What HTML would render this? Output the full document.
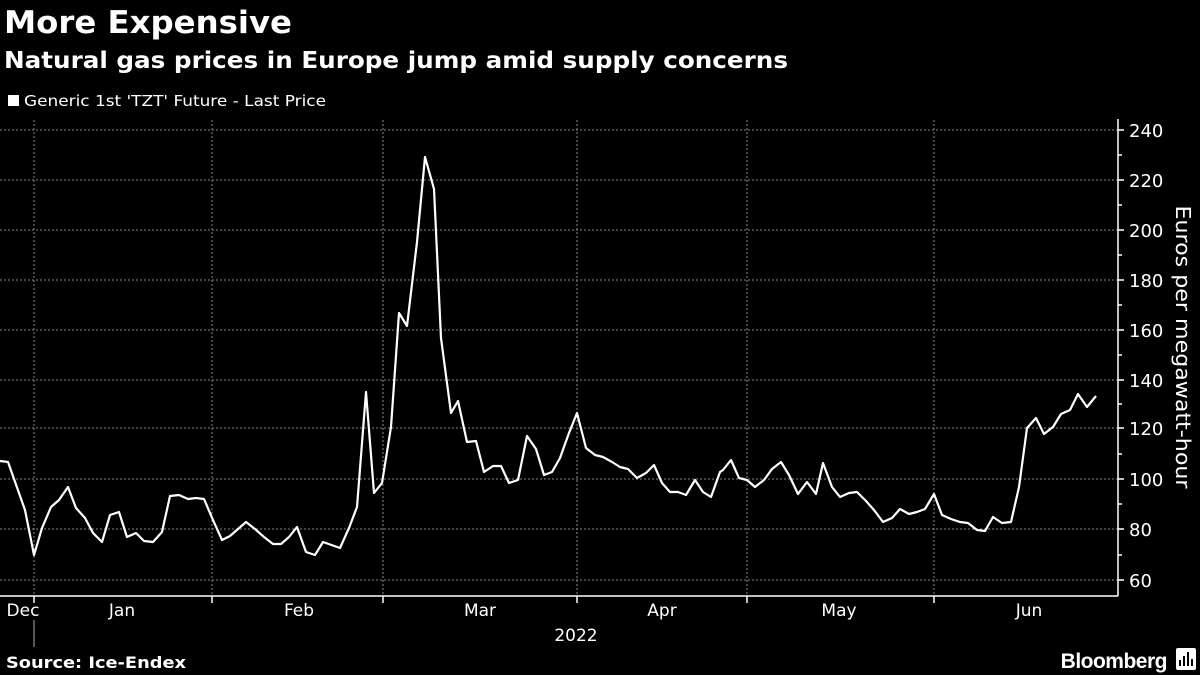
<!DOCTYPE html>
<html><head><meta charset="utf-8"><style>
html,body{margin:0;padding:0;background:#000;}
body{width:1200px;height:675px;overflow:hidden;font-family:"DejaVu Sans",sans-serif;color:#fff;}
</style></head><body>
<svg width="1200" height="675" xmlns="http://www.w3.org/2000/svg" style="position:absolute;left:0;top:0" font-family="DejaVu Sans, sans-serif">
<rect width="1200" height="675" fill="#000"/>
<text x="4" y="33" font-weight="bold" font-size="31" fill="#fff" textLength="288" lengthAdjust="spacingAndGlyphs">More Expensive</text>
<text x="4" y="68" font-weight="bold" font-size="23" fill="#fff" textLength="784" lengthAdjust="spacingAndGlyphs">Natural gas prices in Europe jump amid supply concerns</text>
<rect x="8" y="95" width="11" height="11" fill="#fff"/>
<text x="24" y="106" font-size="15" fill="#fff" textLength="302" lengthAdjust="spacingAndGlyphs">Generic 1st 'TZT' Future - Last Price</text>
<g stroke="#888" stroke-width="1" stroke-dasharray="2,2">
<line x1="0" y1="130" x2="1118" y2="130"/>
<line x1="0" y1="180" x2="1118" y2="180"/>
<line x1="0" y1="230" x2="1118" y2="230"/>
<line x1="0" y1="280" x2="1118" y2="280"/>
<line x1="0" y1="330" x2="1118" y2="330"/>
<line x1="0" y1="380" x2="1118" y2="380"/>
<line x1="0" y1="428" x2="1118" y2="428"/>
<line x1="0" y1="479" x2="1118" y2="479"/>
<line x1="0" y1="529" x2="1118" y2="529"/>
<line x1="0" y1="580" x2="1118" y2="580"/>
<line x1="34" y1="120" x2="34" y2="596"/>
<line x1="212" y1="120" x2="212" y2="596"/>
<line x1="383" y1="120" x2="383" y2="596"/>
<line x1="577" y1="120" x2="577" y2="596"/>
<line x1="747" y1="120" x2="747" y2="596"/>
<line x1="934" y1="120" x2="934" y2="596"/>
</g>
<line x1="34" y1="620" x2="34" y2="647" stroke="#aaa" stroke-width="1"/>
<g stroke="#fff" stroke-width="1.5">
<line x1="0" y1="596" x2="1118" y2="596"/>
<line x1="1118" y1="119" x2="1118" y2="596"/>
<line x1="34" y1="596" x2="34" y2="603"/>
<line x1="212" y1="596" x2="212" y2="603"/>
<line x1="383" y1="596" x2="383" y2="603"/>
<line x1="577" y1="596" x2="577" y2="603"/>
<line x1="747" y1="596" x2="747" y2="603"/>
<line x1="934" y1="596" x2="934" y2="603"/>
<line x1="1118" y1="130" x2="1124" y2="130"/>
<line x1="1118" y1="155" x2="1122" y2="155"/>
<line x1="1118" y1="180" x2="1124" y2="180"/>
<line x1="1118" y1="205" x2="1122" y2="205"/>
<line x1="1118" y1="230" x2="1124" y2="230"/>
<line x1="1118" y1="255" x2="1122" y2="255"/>
<line x1="1118" y1="280" x2="1124" y2="280"/>
<line x1="1118" y1="305" x2="1122" y2="305"/>
<line x1="1118" y1="330" x2="1124" y2="330"/>
<line x1="1118" y1="355" x2="1122" y2="355"/>
<line x1="1118" y1="380" x2="1124" y2="380"/>
<line x1="1118" y1="404" x2="1122" y2="404"/>
<line x1="1118" y1="428" x2="1124" y2="428"/>
<line x1="1118" y1="454" x2="1122" y2="454"/>
<line x1="1118" y1="479" x2="1124" y2="479"/>
<line x1="1118" y1="504" x2="1122" y2="504"/>
<line x1="1118" y1="529" x2="1124" y2="529"/>
<line x1="1118" y1="555" x2="1122" y2="555"/>
<line x1="1118" y1="580" x2="1124" y2="580"/>
</g>
<g font-size="18" fill="#fff">
<text x="1129" y="137">240</text><text x="1129" y="187">220</text><text x="1129" y="237">200</text>
<text x="1129" y="287">180</text><text x="1129" y="337">160</text><text x="1129" y="387">140</text>
<text x="1129" y="435">120</text><text x="1129" y="486">100</text><text x="1129" y="536">80</text><text x="1129" y="587">60</text>
</g>
<g font-size="17" fill="#fff" text-anchor="middle">
<text x="23" y="616">Dec</text><text x="122" y="616">Jan</text><text x="299" y="616">Feb</text>
<text x="480" y="616">Mar</text><text x="662" y="616">Apr</text><text x="839" y="616">May</text><text x="1029" y="616">Jun</text>
<text x="576" y="641">2022</text>
</g>
<text transform="translate(1176,347) rotate(90)" text-anchor="middle" font-size="20" fill="#fff" textLength="283" lengthAdjust="spacingAndGlyphs">Euros per megawatt-hour</text>
<polyline fill="none" stroke="#fff" stroke-width="2.2" stroke-linejoin="round" points="0,461 8,462 25,510 34,555 42,528 51,507 59,500 68,487 76,508 85,518 93,533 102,542 110,515 119,512 127,537 136,533 144,541 153,542 162,532 170,496 179,495 188,499 196,498 204,499 213,520 222,540 230,536 246,522 255,529 264,537 273,544 281,544 289,537 297,527 306,552 315,555 323,542 340,548 349,528 357,507 366,392 374,493 382,483 391,427 399,313 407,326 417,242 425,157 434,189 441,338 451,413 458,401 467,442 476,441 484,472 493,466 501,466 509,483 518,480 527,436 536,449 544,475 552,472 560,458 569,433 577,413 586,448 595,455 603,457 612,462 620,467 628,469 637,478 646,473 654,465 662,483 670,492 678,492 686,495 695,480 703,492 711,497 720,472 723,470 731,460 739,478 747,480 755,487 764,480 772,469 781,462 789,475 798,494 807,482 816,494 823,463 832,487 840,497 849,493 857,492 866,501 874,510 883,522 892,518 900,509 909,514 917,512 925,509 934,494 942,515 951,519 960,522 968,523 977,530 985,531 993,517 1002,523 1011,522 1019,487 1027,428 1036,418 1044,434 1053,427 1061,414 1070,410 1078,394 1087,407 1096,396"/>
<text x="6" y="668" font-weight="bold" font-size="16" fill="#fff" textLength="180" lengthAdjust="spacingAndGlyphs">Source: Ice-Endex</text>
<text x="1167" y="668" text-anchor="end" font-family="Liberation Sans, sans-serif" font-weight="bold" font-size="21" fill="#fff" letter-spacing="-0.5">Bloomberg</text>
<rect x="1176" y="648" width="20" height="22" rx="2" fill="#fff"/>
<path d="M1180,666 L1180,660 M1184,666 L1184,656 M1188,666 L1188,652 M1192,666 L1192,659" stroke="#000" stroke-width="2"/>
</svg>
</body></html>
